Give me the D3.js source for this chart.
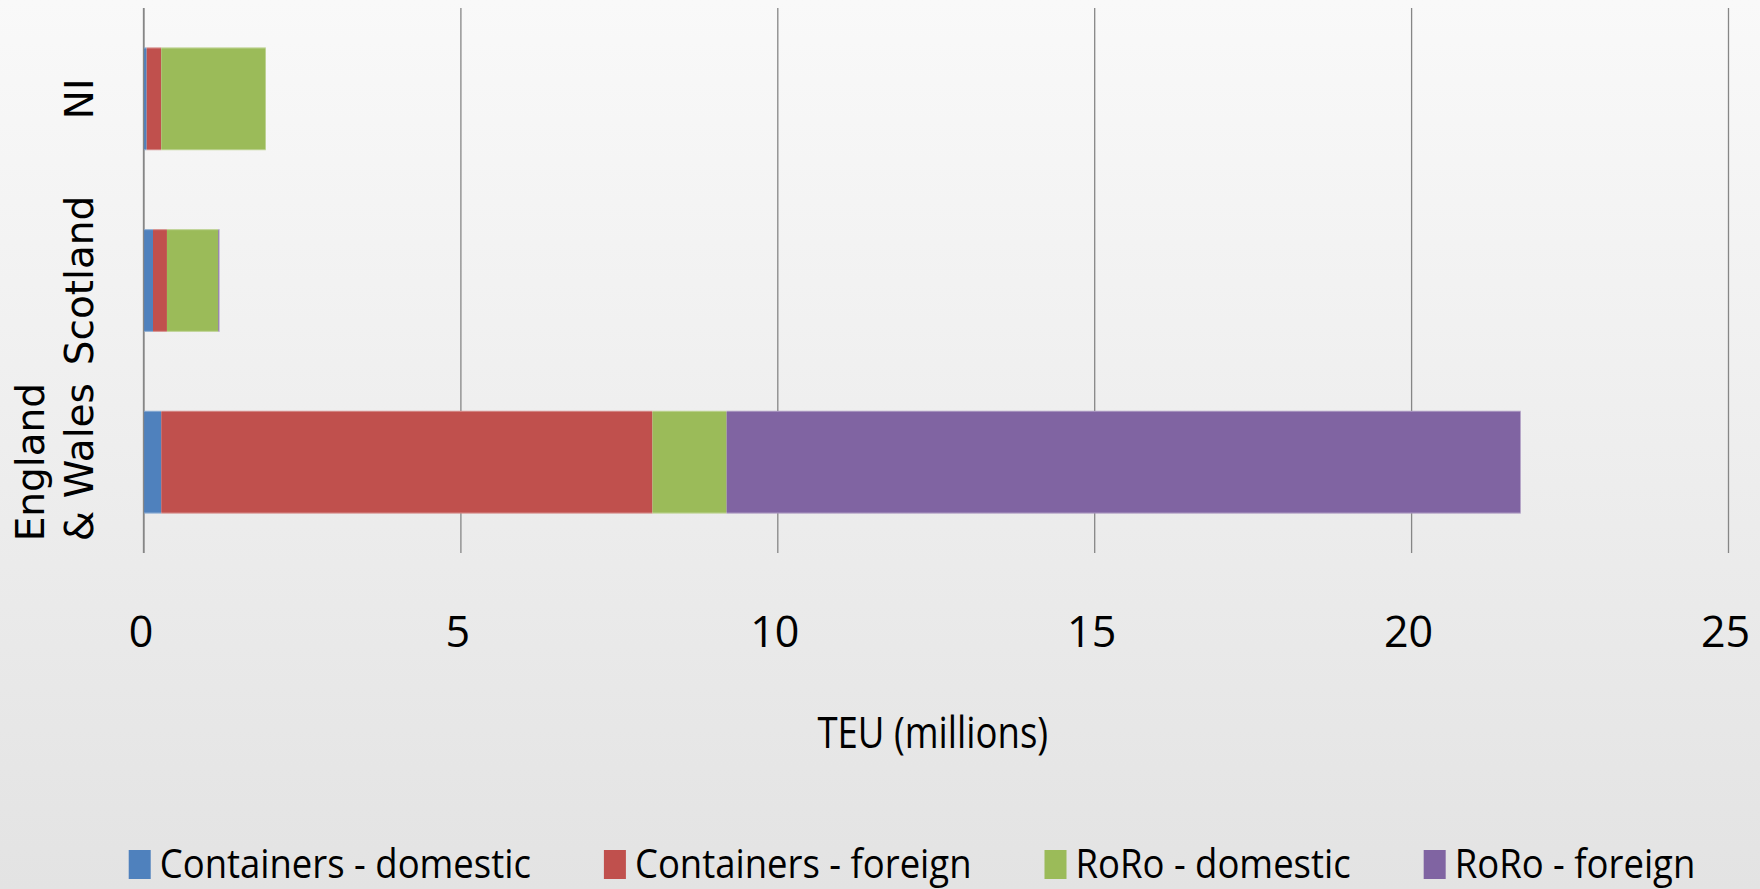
<!DOCTYPE html>
<html>
<head>
<meta charset="utf-8">
<script src="https://cdn.jsdelivr.net/npm/d3@7"></script>
<style>
  html, body { margin: 0; padding: 0; background: #fff; }
  svg { display: block; }
</style>
</head>
<body>
<svg id="chart"></svg>
<script>
// categories, top to bottom
const regions = ['NI', 'Scotland', 'England & Wales']
// label lines for each region (rotated)
const regionLines = [['NI'], ['Scotland'], ['England', '& Wales']]
const seriesNames = ['Containers - domestic', 'Containers - foreign', 'RoRo - domestic', 'RoRo - foreign']
const seriesColors = ['#4f81bd', '#c0504d', '#9bbb59', '#8064a2']
// TEU (millions), one array per series, in region order
const containersDomestic = [0.05, 0.15, 0.28]
const containersForeign = [0.23, 0.22, 7.75]
const roroDomestic = [1.65, 0.81, 1.17]
const roroForeign = [0.0, 0.02, 12.53]
const xTickValues = [0, 5, 10, 15, 20, 25]
const xTitle = 'TEU (millions)'

const width = 1760
const height = 889
const margin = { top: 8, right: 32, bottom: 336, left: 143.5 }
const w = width - margin.left - margin.right
const h = height - margin.top - margin.bottom

const svg = d3.select('#chart')
  .attr('width', width)
  .attr('height', height)

// background gradient
const grad = svg.append('defs').append('linearGradient')
  .attr('id', 'bg')
  .attr('x1', 0).attr('y1', 0).attr('x2', 0).attr('y2', 1)
grad.append('stop').attr('offset', '0%').attr('stop-color', '#f9f9f9')
grad.append('stop').attr('offset', '100%').attr('stop-color', '#e3e3e3')
svg.append('rect')
  .attr('width', width)
  .attr('height', height)
  .attr('fill', 'url(#bg)')

const chart = svg.append('g')
  .attr('transform', `translate(${margin.left}, ${margin.top})`)

const xScale = d3.scaleLinear()
  .domain([0, 25])
  .range([0, w])

const yScale = d3.scaleBand()
  .domain(regions)
  .range([0, h])
  .paddingInner(0.435)
  .paddingOuter(0.2175)

// stacked data
const table = regions.map((r, i) => ({
  region: r,
  s0: containersDomestic[i],
  s1: containersForeign[i],
  s2: roroDomestic[i],
  s3: roroForeign[i]
}))
const stack = d3.stack().keys(['s0', 's1', 's2', 's3'])
const layers = stack(table)

// gridlines + axis
const xAxis = d3.axisBottom(xScale)
  .tickValues(xTickValues)
  .tickSize(-h)
  .tickPadding(0)
  .tickFormat(d3.format('d'))

const gx = chart.append('g')
  .attr('class', 'x axis')
  .attr('transform', `translate(0, ${h})`)
  .call(xAxis)
gx.select('.domain').remove()
gx.selectAll('.tick line')
  .attr('stroke', '#868686')
  .attr('stroke-width', 1.3)
gx.selectAll('.tick text')
  .attr('fill', '#000')
  .attr('font-family', 'Open Sans')
  .attr('font-size', 43)
  .attr('dy', 0)
  .attr('y', 94)
  .attr('dx', -3)

// bars
chart.append('g')
  .selectAll('g')
  .data(layers)
  .enter()
  .append('g')
  .attr('fill', (d, i) => seriesColors[i])
  .selectAll('rect')
  .data(d => d)
  .enter()
  .append('rect')
  .attr('x', d => xScale(d[0]))
  .attr('y', d => yScale(d.data.region))
  .attr('width', d => Math.max(0, xScale(d[1]) - xScale(d[0])))
  .attr('height', yScale.bandwidth())

// bar outline (light edge)
chart.append('g')
  .selectAll('rect')
  .data(table)
  .enter()
  .append('rect')
  .attr('x', 0)
  .attr('y', d => yScale(d.region) + 0.5)
  .attr('width', d => xScale(d.s0 + d.s1 + d.s2 + d.s3))
  .attr('height', yScale.bandwidth() - 1)
  .attr('fill', 'none')
  .attr('stroke', 'rgba(255,255,255,0.35)')
  .attr('stroke-width', 1)

// left axis line on top of bars
chart.append('line')
  .attr('x1', xScale(0)).attr('x2', xScale(0))
  .attr('y1', 0).attr('y2', h)
  .attr('stroke', '#868686')
  .attr('stroke-width', 1.3)

// category labels (rotated)
const yLabels = chart.append('g')
  .selectAll('text')
  .data(regions)
  .enter()
  .append('text')
  .attr('transform', d => `translate(${-51}, ${yScale(d) + yScale.bandwidth() / 2}) rotate(-90)`)
  .attr('text-anchor', 'middle')
  .attr('font-family', 'DejaVu Sans')
  .attr('font-size', 39)
  .attr('fill', '#000')

yLabels.each(function(d, i) {
  const lines = regionLines[i]
  const el = d3.select(this)
  lines.forEach((t, j) => {
    el.append('tspan')
      .attr('x', 0)
      .attr('y', (j - (lines.length - 1)) * 49)
      .text(t)
  })
})

// x axis title
chart.append('text')
  .attr('transform', `translate(${w / 2 - 3}, ${h + 195}) scale(0.85, 1)`)
  .attr('text-anchor', 'middle')
  .attr('font-family', 'Open Sans')
  .attr('font-size', 43)
  .attr('fill', '#000')
  .text(xTitle)

// legend
const legendScale = 0.89
const legend = svg.append('g').attr('class', 'legend')
const items = legend.selectAll('g')
  .data(seriesNames)
  .enter()
  .append('g')

items.append('rect')
  .attr('x', 0)
  .attr('y', 850)
  .attr('width', 22)
  .attr('height', 29)
  .attr('fill', (d, i) => seriesColors[i])

items.append('text')
  .attr('transform', `translate(31, 878) scale(${legendScale}, 1)`)
  .attr('font-family', 'Open Sans')
  .attr('font-size', 41)
  .attr('fill', '#000')
  .text(d => d)

// lay legend items out side by side, centred
let cursor = 0
const offsets = []
items.each(function() {
  offsets.push(cursor)
  const tw = d3.select(this).select('text').node().getBBox().width * legendScale
  cursor += 31 + tw + 73
})
const total = cursor - 73
const start = 912 - total / 2
items.attr('transform', (d, i) => `translate(${start + offsets[i]}, 0)`)
</script>
</body>
</html>
